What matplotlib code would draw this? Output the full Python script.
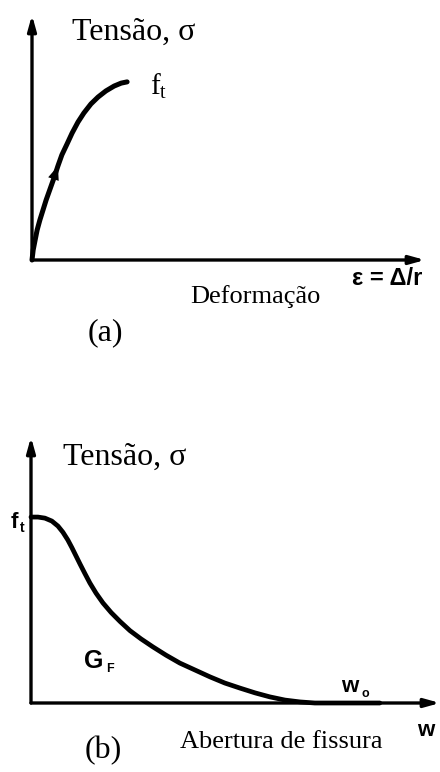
import matplotlib
matplotlib.use("Agg")
import matplotlib.pyplot as plt

# --- data -----------------------------------------------------------------
# (a) stress-strain curve in tension (normalised units)
strain_a = [0.000, 0.003, 0.008, 0.013, 0.020, 0.028, 0.036, 0.046, 0.056,
            0.066, 0.076, 0.089, 0.102, 0.117, 0.132, 0.150, 0.168, 0.188,
            0.209, 0.227, 0.242]
stress_a = [0.000, 0.041, 0.082, 0.122, 0.163, 0.204, 0.245, 0.290, 0.335,
            0.384, 0.429, 0.473, 0.518, 0.563, 0.600, 0.637, 0.665, 0.690,
            0.710, 0.722, 0.727]

# (b) softening curve: stress vs crack opening (normalised units)
opening_b = [0.000, 0.017, 0.034, 0.051, 0.066, 0.078, 0.090, 0.100, 0.110,
             0.120, 0.132, 0.144, 0.159, 0.176, 0.196, 0.218, 0.242, 0.269,
             0.298, 0.330, 0.364, 0.401, 0.438, 0.474, 0.511, 0.548, 0.584,
             0.621, 0.658, 0.694, 0.853]
stress_b = [0.699, 0.699, 0.695, 0.684, 0.665, 0.642, 0.613, 0.584, 0.553,
            0.522, 0.486, 0.451, 0.413, 0.376, 0.340, 0.306, 0.272, 0.241,
            0.211, 0.180, 0.150, 0.124, 0.098, 0.075, 0.056, 0.038, 0.023,
            0.011, 0.004, 0.000, 0.000]

W, H = 440, 772
SERIF = ["Liberation Serif", "DejaVu Serif"]
SANS = ["Liberation Sans", "DejaVu Sans"]

plt.rcParams["mathtext.fontset"] = "custom"
plt.rcParams["mathtext.rm"] = "Liberation Serif"
plt.rcParams["mathtext.it"] = "Liberation Serif:italic"

fig = plt.figure(figsize=(W / 100, H / 100), dpi=100)
fig.patch.set_facecolor("white")


def px(x, y):
    """Pixel position (from top-left) to figure fraction."""
    return x / W, 1 - y / H


def make_axes(left, top, right, bottom):
    ax = fig.add_axes([left / W, 1 - bottom / H, (right - left) / W,
                       (bottom - top) / H])
    ax.set_xlim(0, 1)
    ax.set_ylim(0, 1)
    ax.axis("off")
    arrow = dict(arrowstyle="-|>,head_length=0.9,head_width=0.25",
                 color="black", lw=2.4, shrinkA=0, shrinkB=0)
    ax.annotate("", xy=(0, 1), xytext=(0, 0), xycoords="axes fraction",
                arrowprops=arrow, annotation_clip=False)
    ax.annotate("", xy=(1, 0), xytext=(0, 0), xycoords="axes fraction",
                arrowprops=arrow, annotation_clip=False)
    return ax


# --- panel (a) ------------------------------------------------------------
ax_a = make_axes(32, 15, 425, 260)
ax_a.plot(strain_a, stress_a, color="black", lw=3.6, solid_capstyle="round",
          solid_joinstyle="round", clip_on=False)
ax_a.annotate("", xy=(strain_a[9], stress_a[9]),
              xytext=(strain_a[7], stress_a[7]),
              arrowprops=dict(arrowstyle="-|>,head_length=1.0,head_width=0.4",
                              color="black", lw=0, shrinkA=0, shrinkB=0))

fig.text(*px(72, 40), "Tensão, σ", fontsize=23, family=SERIF, va="baseline")
fig.text(*px(150, 95), r"f$_{\rm t}$", fontsize=21, family=SERIF,
         va="baseline")
fig.text(*px(387, 279), "ε = Δ/r", fontsize=17, family=SANS,
         weight="bold", ha="center", va="center")
fig.text(*px(190, 303), "Deformação", fontsize=19, family=SERIF,
         va="baseline")
fig.text(*px(105, 333), "(a)", fontsize=23, family=SERIF,
         ha="center", va="center")

# --- panel (b) ------------------------------------------------------------
ax_b = make_axes(31, 437, 440, 703)
ax_b.plot(opening_b, stress_b, color="black", lw=3.4, solid_capstyle="round",
          solid_joinstyle="round", clip_on=False)

fig.text(*px(63, 465), "Tensão, σ", fontsize=23, family=SERIF,
         va="baseline")
fig.text(*px(11, 528), "f", fontsize=16, family=SANS, weight="bold",
         va="baseline")
fig.text(*px(20, 532), "t", fontsize=10, family=SANS, weight="bold",
         va="baseline")
fig.text(*px(84, 668), "G", fontsize=18, family=SANS, weight="bold",
         va="baseline")
fig.text(*px(106, 672), "F", fontsize=9, family=SANS, weight="bold",
         va="baseline")
fig.text(*px(341, 692), "w", fontsize=16, family=SANS, weight="bold",
         va="baseline")
fig.text(*px(361, 697), "o", fontsize=9, family=SANS, weight="bold",
         va="baseline")
fig.text(*px(426, 730), "w", fontsize=16, family=SANS, weight="bold",
         ha="center", va="center")
fig.text(*px(180, 748), "Abertura de fissura", fontsize=19, family=SERIF,
         va="baseline")
fig.text(*px(103, 751), "(b)", fontsize=23, family=SERIF,
         ha="center", va="center")

fig.savefig("out.png", dpi=100, facecolor="white")
